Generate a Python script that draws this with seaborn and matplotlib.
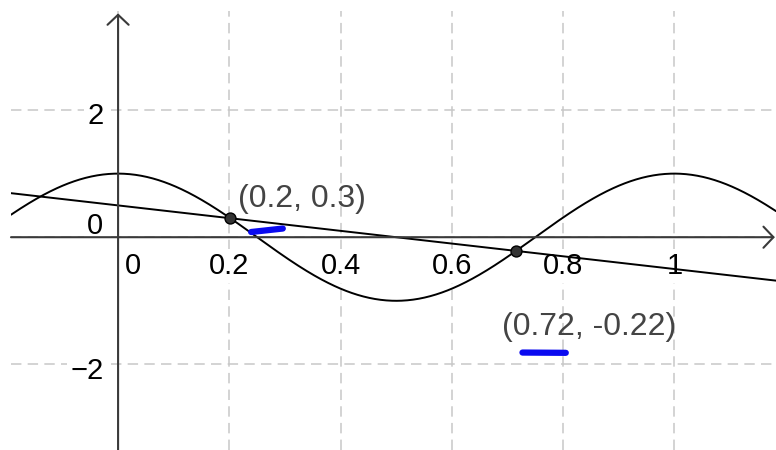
import numpy as np
import pandas as pd
import matplotlib
matplotlib.use("Agg")
import matplotlib.pyplot as plt
import matplotlib.transforms as mtransforms
import seaborn as sns

# ---- data ----
cos_amplitude = 1.0
cos_period = 1.0
line_slope = -1.0
line_intercept = 0.5
point_x = [0.202, 0.715]
point_y = [0.298, -0.215]
point_labels = ["(0.2, 0.3)", "(0.72, -0.22)"]
x_ticks = [0, 0.2, 0.4, 0.6, 0.8, 1]
x_tick_labels = ["0", "0.2", "0.4", "0.6", "0.8", "1"]
y_ticks = [-2, 0, 2]
y_tick_labels = ["\u22122", "0", "2"]

x_min, x_max = -0.1925, 1.1828
y_min, y_max = -3.346, 3.557

sns.set_theme(style="white")
plt.rcParams["font.family"] = ["Liberation Sans", "DejaVu Sans"]
plt.rcParams["lines.scale_dashes"] = False

fig = plt.figure(figsize=(7.76, 4.5), dpi=100)
ax = fig.add_axes([11 / 776, 0, 765 / 776, 439 / 450])
ax.set_xlim(x_min, x_max)
ax.set_ylim(y_min, y_max)

xs = np.linspace(x_min, x_max, 800)
df = pd.concat([
    pd.DataFrame({"x": xs, "y": cos_amplitude * np.cos(2 * np.pi * xs / cos_period), "curve": "f"}),
    pd.DataFrame({"x": xs, "y": line_slope * xs + line_intercept, "curve": "g"}),
])
sns.lineplot(data=df, x="x", y="y", hue="curve", palette=["black", "black"],
             legend=False, sort=False, estimator=None, lw=1.4, ax=ax, zorder=3)

# spines at zero (hidden; axes drawn as arrows)
for s in ["top", "right"]:
    ax.spines[s].set_visible(False)
ax.spines["bottom"].set_position(("data", 0))
ax.spines["left"].set_position(("data", 0))
ax.spines["bottom"].set_linewidth(0)
ax.spines["left"].set_linewidth(0)

axis_color = "#3a3a3a"
arrow_kw = dict(arrowstyle="->,head_length=7.2,head_width=7.6", lw=1.5,
                color=axis_color, mutation_scale=1, shrinkA=0, shrinkB=0)
ax.annotate("", xy=(0, 3.52), xytext=(0, y_min), arrowprops=arrow_kw, zorder=4)
ax.annotate("", xy=(x_max - 0.002, 0), xytext=(x_min, 0), arrowprops=arrow_kw, zorder=4)

# grid
ax.set_axisbelow(True)
ax.grid(True, color="#c8c8c8", lw=1.1, dashes=(7.5, 4.5))

ax.set_xticks(x_ticks, x_tick_labels)
ax.set_yticks(y_ticks, y_tick_labels)
ax.tick_params(axis="both", length=0, labelsize=21, labelcolor="black")
ax.tick_params(axis="x", pad=10.8)
ax.tick_params(axis="y", pad=10.5)

for lab in ax.get_xticklabels():
    lab.set_bbox(dict(facecolor="white", edgecolor="none", pad=2))
    if lab.get_text() == "0":
        lab.set_transform(lab.get_transform() + mtransforms.ScaledTranslation(11 / 72, 0, fig.dpi_scale_trans))
for lab in ax.get_yticklabels():
    lab.set_bbox(dict(facecolor="white", edgecolor="none", pad=2))
    dy = 10.5 if lab.get_text() == "0" else -2.5
    lab.set_transform(lab.get_transform() + mtransforms.ScaledTranslation(0, dy / 72, fig.dpi_scale_trans))

# intersection points
sns.scatterplot(x=point_x, y=point_y, s=62, color="#333333", edgecolor="black",
                linewidth=1.0, ax=ax, zorder=6, legend=False)

offsets = [(5.8, 8.4), (-9.6, -60.5)]
for px, py, lab, off in zip(point_x, point_y, point_labels, offsets):
    ax.annotate(lab, xy=(px, py), xytext=off, textcoords="offset points",
                ha="left", va="baseline", fontsize=23, color="#444444", zorder=7)

# blue hand-drawn underline strokes (in points relative to each point)
strokes = [((14.9, -9.9), (37.7, -7.4)), ((4.8, -73.2), (36.0, -73.4))]
for px, py, (a, b) in zip(point_x, point_y, strokes):
    tr = mtransforms.Affine2D().scale(fig.dpi / 72) + mtransforms.ScaledTranslation(px, py, ax.transData)
    ax.plot([a[0], b[0]], [a[1], b[1]], transform=tr, color="#0a0af0", lw=4.5,
            solid_capstyle="round", zorder=8)

ax.set_xlabel("")
ax.set_ylabel("")
fig.savefig("out.png", dpi=100)
